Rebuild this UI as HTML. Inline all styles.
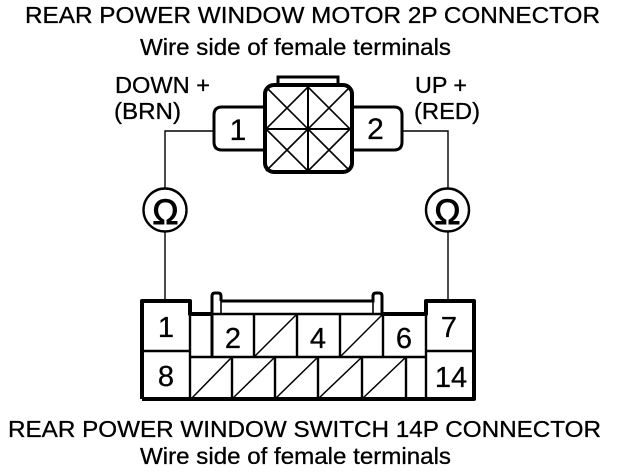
<!DOCTYPE html>
<html><head><meta charset="utf-8"><style>html,body{margin:0;padding:0;background:#fff}svg{display:block}text{font-family:"Liberation Sans",sans-serif;fill:#000;stroke:#000;stroke-width:.3px}</style></head><body>
<svg width="624" height="474" viewBox="0 0 624 474" xmlns="http://www.w3.org/2000/svg">
<g font-size="23">
<text x="25" y="23" textLength="575" lengthAdjust="spacingAndGlyphs">REAR POWER WINDOW MOTOR 2P CONNECTOR</text>
<text x="140" y="55" textLength="311" lengthAdjust="spacingAndGlyphs">Wire side of female terminals</text>
<text x="115" y="93" textLength="95" lengthAdjust="spacingAndGlyphs">DOWN +</text>
<text x="114" y="119" textLength="67" lengthAdjust="spacingAndGlyphs">(BRN)</text>
<text x="415" y="93" textLength="52" lengthAdjust="spacingAndGlyphs">UP +</text>
<text x="414" y="119" textLength="66" lengthAdjust="spacingAndGlyphs">(RED)</text>
<text x="8" y="437" textLength="593" lengthAdjust="spacingAndGlyphs">REAR POWER WINDOW SWITCH 14P CONNECTOR</text>
<text x="140" y="464" textLength="311" lengthAdjust="spacingAndGlyphs">Wire side of female terminals</text>
</g>
<g fill="none" stroke="#000" stroke-width="3">
<path d="M264 107H222Q214 107 214 115V142Q214 150 222 150H264" />
<path d="M352 107H394Q402 107 402 115V142Q402 150 394 150H352" />
<rect x="265" y="85" width="87" height="87" rx="9" stroke-width="4"/>
<path d="M278 84V77H338V84" />
</g>
<g fill="none" stroke="#000" stroke-width="1.6">
<path d="M308 85V172M265 129H352" stroke-width="2"/>
<path d="M266 87L308 129M308 87L266 129M308 87L350 129M350 87L308 129M266 129L308 171M308 129L266 171M308 129L350 171M350 129L308 171"/>
<path d="M213 131H165V188M165 232V301M402 131H448V188M448 232V301" stroke-width="1.4"/>
<circle cx="165" cy="210" r="21.5" stroke-width="2.4"/>
<circle cx="447.500" cy="210" r="21.5" stroke-width="2.4"/>
</g>
<g font-size="29" text-anchor="middle">
<text x="165.500" y="224" font-size="35" style="stroke-width:.9px">Ω</text>
<text x="447.500" y="224" font-size="35" style="stroke-width:.9px">Ω</text>
<text x="238" y="140" font-size="30">1</text>
<text x="375.500" y="139" font-size="30">2</text>
<text x="166" y="337">1</text>
<text x="233" y="348">2</text>
<text x="318" y="348">4</text>
<text x="404" y="348">6</text>
<text x="449" y="337">7</text>
<text x="166" y="386">8</text>
<text x="451" y="387">14</text>
</g>
<g fill="none" stroke="#000" stroke-width="3">
<path d="M142 399V301H190V314H212M382 314H426V301H474V399H142" stroke-width="4" stroke-linejoin="round"/>
<path d="M212 314V357M212 314V296Q212 293 215 293H218Q221 293 221 296V301M221 301H373V296Q373 293 376 293H379Q382 293 382 296V314" stroke-width="3"/>
</g>
<g fill="none" stroke="#000" stroke-width="2.4">
<path d="M142 351H190M426 351H474M190 314V399M426 301V399"/>
<path d="M190 357H426"/>
<path d="M221 301V314M373 301V314" stroke-width="1.6"/>
<path d="M212 314H382" />
<path d="M254 314V357M297 314V357M340 314V357M383 314V357"/>
<path d="M232 357V399M275 357V399M318 357V399M362 357V399M406 357V399"/>
</g>
<g fill="none" stroke="#000" stroke-width="1.5">
<path d="M254 357L297 314M340 357L383 314M191 399L232 357M232 399L275 357M275 399L318 357M318 399L362 357M362 399L406 357"/>
</g>
</svg>
</body></html>
